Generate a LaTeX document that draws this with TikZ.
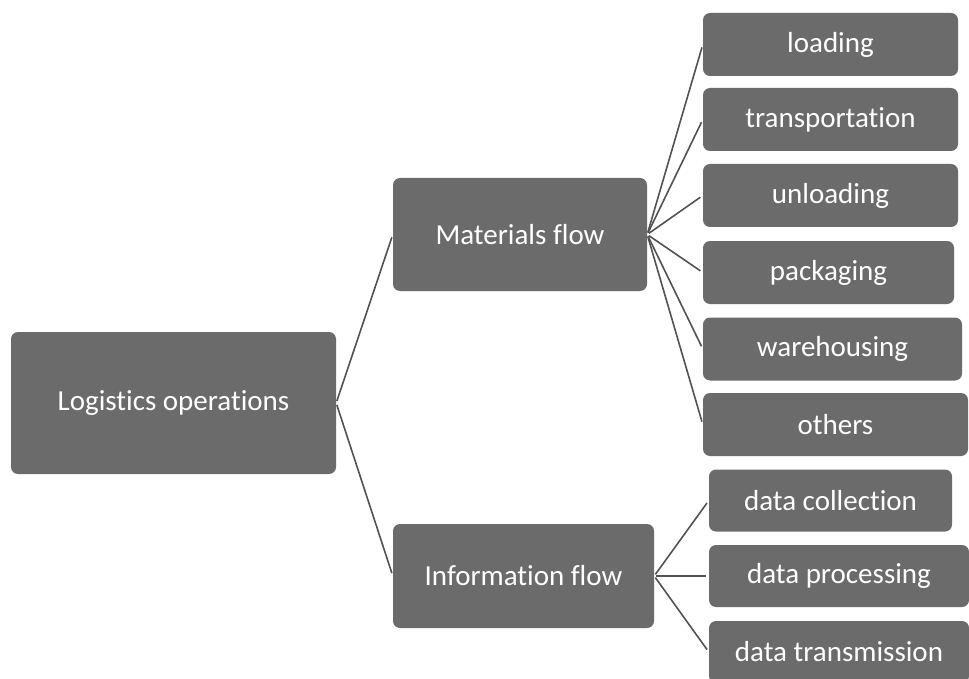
\documentclass[tikz,border=0pt]{standalone}
\usepackage{fontspec}
\setmainfont{Carlito}[Ligatures=NoCommon]
\tikzset{
    box/.style={fill=boxgray, rounded corners=7pt, text=white, inner sep=0pt,
        font=\fontsize{29}{34}\selectfont},
    leaf/.style={box, minimum height=63pt},
    link/.style={draw=linegray, line width=1.6pt, shorten <=2pt, shorten >=3pt}
}

\begin{document}
\begin{tikzpicture}[x=1pt,y=-1pt]
  % Colours
    \colorlet{boxgray}{black!58}
    \colorlet{linegray}{black!68}

  % Page size
    \useasboundingbox (0,0) rectangle (969,679);

  % The graphic
    \node[box, minimum width=325pt, minimum height=142pt] (log) at (173.5,403) {Logistics operations};
    \node[box, minimum width=254pt, minimum height=113pt] (mat) at (520,234.5) {Materials flow};
    \node[box, minimum width=261pt, minimum height=104pt] (inf) at (523.5,576) {Information flow};

    % materials branch
    \foreach \n/\x/\y/\w/\t in {load/830.5/44.5/255/loading,
        trans/830.5/119.5/255/transportation,
        unload/830.5/195.5/255/unloading,
        pack/828.5/272.5/251/packaging,
        ware/832.5/349/259/warehousing,
        other/835.5/424.5/265/others}
      \node[leaf, minimum width=\w pt] (\n) at (\x,\y) {\t};

    % information branch
    \foreach \n/\x/\y/\w/\t in {coll/830.5/500.5/243/data collection,
        proc/839/576/260/data processing,
        transm/839/652/260/data transmission}
      \node[leaf, minimum width=\w pt, minimum height=62pt] (\n) at (\x,\y) {\t};

    \draw[link] (log.east) -- (mat.west);
    \draw[link] (log.east) -- (inf.west);

    \foreach \n in {load,trans,unload,pack,ware,other}
      \draw[link] (mat.east) -- (\n.west);

    \foreach \n in {coll,proc,transm}
      \draw[link] (inf.east) -- (\n.west);
\end{tikzpicture}
\end{document}
